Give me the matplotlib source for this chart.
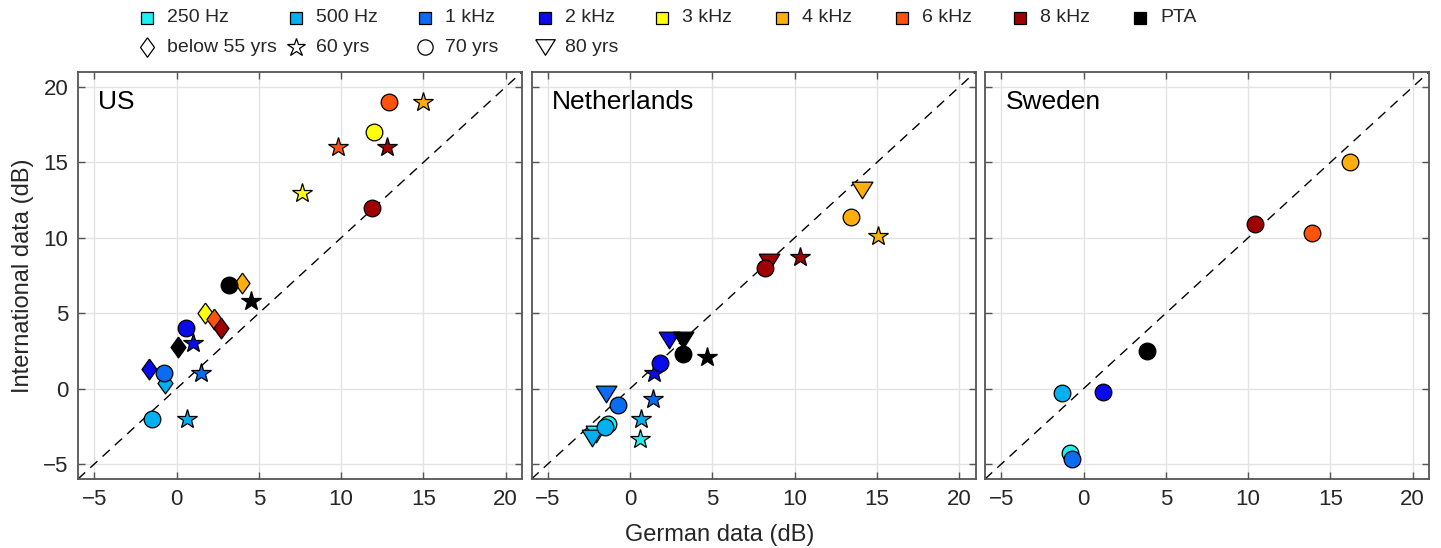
import numpy as np
import matplotlib
matplotlib.use("Agg")
import matplotlib.pyplot as plt

plt.rcParams['font.family'] = ['Liberation Sans', 'DejaVu Sans']
plt.rcParams['lines.scale_dashes'] = False

# Legend entries
freq_labels = ['250 Hz', '500 Hz', '1 kHz', '2 kHz', '3 kHz', '4 kHz', '6 kHz', '8 kHz', 'PTA']
freq_colors = ['#19F2F2', '#00B0F0', '#0A6CF0', '#0A0AEB', '#FFFF0A', '#FFAE0F',
               '#FF520A', '#A00000', '#000000']
age_labels = ['below 55 yrs', '60 yrs', '70 yrs', '80 yrs']

# US: (age group, frequency, German dB, international dB)
us_age = ['below 55 yrs'] * 7 + ['70 yrs'] * 7 + ['60 yrs'] * 8
us_freq = ['500 Hz', '2 kHz', 'PTA', '3 kHz', '6 kHz', '8 kHz', '4 kHz',
           '500 Hz', '1 kHz', '2 kHz', '3 kHz', '6 kHz', '8 kHz', 'PTA',
           '500 Hz', '1 kHz', '2 kHz', '3 kHz', '4 kHz', '6 kHz', '8 kHz', 'PTA']
us_german = [-0.7, -1.7, 0.1, 1.7, 2.26, 2.7, 3.95,
             -1.5, -0.8, 0.56, 12.0, 12.9, 11.9, 3.2,
             0.65, 1.45, 1.0, 7.6, 15.0, 9.8, 12.8, 4.5]
us_intl = [0.4, 1.3, 2.75, 5.0, 4.6, 4.0, 7.0,
           -2.0, 1.0, 4.0, 17.0, 19.0, 12.0, 6.9,
           -2.0, 1.0, 3.0, 13.0, 19.0, 16.0, 16.0, 5.8]

# Netherlands
nl_age = ['80 yrs'] * 7 + ['60 yrs'] * 7 + ['70 yrs'] * 7
nl_freq = ['250 Hz', '500 Hz', '1 kHz', '2 kHz', '4 kHz', '8 kHz', 'PTA',
           '250 Hz', '500 Hz', '1 kHz', '2 kHz', '4 kHz', '8 kHz', 'PTA',
           '250 Hz', '500 Hz', '1 kHz', '2 kHz', '4 kHz', '8 kHz', 'PTA']
nl_german = [-2.1, -2.3, -1.5, 2.35, 14.1, 8.45, 3.2,
             0.57, 0.65, 1.4, 1.45, 15.05, 10.3, 4.7,
             -1.36, -1.52, -0.75, 1.8, 13.45, 8.2, 3.2]
nl_intl = [-3.0, -3.3, -0.35, 3.2, 13.2, 8.4, 3.2,
           -3.35, -2.0, -0.7, 1.0, 10.1, 8.7, 2.1,
           -2.35, -2.57, -1.1, 1.7, 11.4, 8.0, 2.3]

# Sweden
se_age = ['70 yrs'] * 8
se_freq = ['250 Hz', '500 Hz', '1 kHz', '2 kHz', '4 kHz', '6 kHz', '8 kHz', 'PTA']
se_german = [-0.85, -1.3, -0.7, 1.2, 16.2, 13.9, 10.4, 3.85]
se_intl = [-4.3, -0.3, -4.7, -0.2, 15.05, 10.35, 10.9, 2.5]

countries = [
    ('US', us_age, us_freq, us_german, us_intl),
    ('Netherlands', nl_age, nl_freq, nl_german, nl_intl),
    ('Sweden', se_age, se_freq, se_german, se_intl),
]

# marker shapes (MATLAB-like diamond and flat down-triangle)
diamond = [(0, 1), (0.72, 0), (0, -1), (-0.72, 0), (0, 1)]
tri_down = [(-1, 0.8), (1, 0.8), (0, -0.8), (-1, 0.8)]
age_markers = {
    'below 55 yrs': (diamond, 15.0),
    '60 yrs': ('*', 14.5),
    '70 yrs': ('o', 12.0),
    '80 yrs': (tri_down, 15.0),
}
color_of = dict(zip(freq_labels, freq_colors))

W, H = 1441, 548
fig = plt.figure(figsize=(W / 100, H / 100), dpi=100)

axis_color = '#555555'
text_color = '#262626'
lims = (-6, 21)
ticks = [-5, 0, 5, 10, 15, 20]
panel_left = [78, 531.5, 985]

for i, (name, ages, freqs, xs, ys) in enumerate(countries):
    ax = fig.add_axes([panel_left[i] / W, 69 / H, 444 / W, 407 / H])
    ax.set_xlim(lims)
    ax.set_ylim(lims)
    ax.set_xticks(ticks)
    ax.set_yticks(ticks)
    ax.grid(True, color='#e3e3e3', linewidth=1.0)
    ax.set_axisbelow(True)
    ax.plot(lims, lims, color='k', linewidth=1.0, linestyle=(0, (7, 5)), zorder=2)

    for a, f, x, y in zip(ages, freqs, xs, ys):
        m, ms = age_markers[a]
        ax.plot([x], [y], linestyle='none', marker=m, markersize=ms,
                markerfacecolor=color_of[f], markeredgecolor='k',
                markeredgewidth=0.9, zorder=3)

    ax.text(0.046, 0.957, name, transform=ax.transAxes, fontsize=19,
            va='top', ha='left', color='k')

    ax.tick_params(direction='in', top=True, right=True, length=5, width=1,
                   color=axis_color, labelsize=16, labelcolor=text_color, pad=7)
    if i > 0:
        ax.tick_params(labelleft=False)
    for sp in ax.spines.values():
        sp.set_color(axis_color)
        sp.set_linewidth(1.3)

fig.text(720 / W, 13 / H, 'German data (dB)', ha='center', va='center',
         fontsize=17, color=text_color)
fig.text(23 / W, 1 - 276 / H, 'International data (dB)', ha='center', va='center',
         rotation=90, fontsize=17, color=text_color)

# Legend drawn in a strip across the top, laid out in pixels
lax = fig.add_axes([0, 1 - 66 / H, 1, 66 / H])
lax.set_xlim(0, W)
lax.set_ylim(66, 0)
lax.axis('off')
col_x = [147, 296, 425, 545, 662, 782, 902, 1020, 1140]
row_y = [18, 47]
for j, lab in enumerate(freq_labels):
    lax.plot([col_x[j]], [row_y[0]], linestyle='none', marker='s', markersize=9,
             markerfacecolor=freq_colors[j], markeredgecolor='k', markeredgewidth=0.9)
    lax.text(col_x[j] + 20, row_y[0], lab, fontsize=14, va='center', ha='left',
             color=text_color)
for j, lab in enumerate(age_labels):
    m, ms = age_markers[lab]
    lax.plot([col_x[j]], [row_y[1]], linestyle='none', marker=m, markersize=ms - 1,
             markerfacecolor='white', markeredgecolor='k', markeredgewidth=0.9)
    lax.text(col_x[j] + 20, row_y[1], lab, fontsize=14, va='center', ha='left',
             color=text_color)

fig.savefig('out.png', dpi=100)
